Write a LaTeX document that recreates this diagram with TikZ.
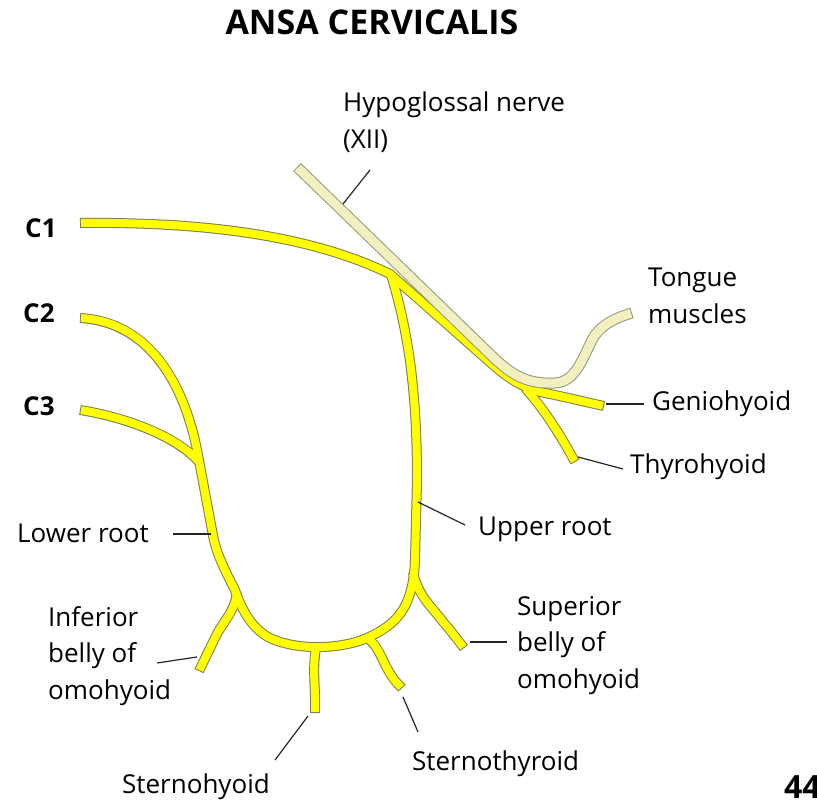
\documentclass[tikz,border=0pt]{standalone}
\usepackage{fontspec}
\setmainfont{Open Sans}
\definecolor{NerveClr}{RGB}{255,255,0}
\definecolor{NerveEdgeClr}{RGB}{125,125,80}
\definecolor{HypoClr}{RGB}{242,240,192}
\definecolor{HypoEdgeClr}{RGB}{150,150,120}
\tikzset{
  nerveedge/.style={line width=10pt,color=NerveEdgeClr},
  nervefill/.style={line width=8pt,color=NerveClr,shorten <=1pt,shorten >=1pt},
  hypoedge/.style={line width=11pt,color=HypoEdgeClr},
  hypofill/.style={line width=9pt,color=HypoClr,shorten <=1pt,shorten >=1pt},
  lbl/.style={font=\fontsize{26}{36.5}\selectfont,inner sep=0pt,align=left},
  rootlbl/.style={font=\fontsize{26}{36.5}\selectfont\bfseries,inner sep=0pt,anchor=base west},
  leader/.style={line width=1.2pt,color=black!85}
}
\begin{document}
\begin{tikzpicture}[x=1pt,y=-1pt]
\useasboundingbox (0,0) rectangle (817,802);

\foreach \s in {nerveedge,nervefill}{
  \draw[\s] (80,223) .. controls (180,222) and (300,230) .. (390,274) -- (492,364)
    .. controls (508,378) and (522,388) .. (545,393) .. controls (570,398) and (585,402) .. (604,406);
  \draw[\s] (525,388) .. controls (540,405) and (555,425) .. (575,462);
  \draw[\s] (391,275) .. controls (408,330) and (417,390) .. (417,480) -- (415,560)
    .. controls (413,610) and (395,625) .. (367,638) .. controls (345,648) and (300,652) .. (270,638)
    .. controls (250,628) and (240,605) .. (235,590) .. controls (222,565) and (215,550) .. (212,530)
    -- (198,455) .. controls (185,385) and (150,322) .. (80,318);
  \draw[\s] (80,410) .. controls (130,418) and (178,438) .. (199,462);
  \draw[\s] (413,572) .. controls (418,595) and (430,605) .. (440,618) .. controls (450,630) .. (464,648);
  \draw[\s] (367,638) .. controls (378,645) and (382,660) .. (388,670) .. controls (394,680) .. (402,688);
  \draw[\s] (316,648) .. controls (312,670) and (316,690) .. (315,713);
  \draw[\s] (237,592) .. controls (235,610) and (225,620) .. (218,632) .. controls (210,648) .. (199,671);
}
\foreach \s in {hypoedge,hypofill}{
  \draw[\s] (297,167) -- (493,357) .. controls (515,378) and (530,384) .. (555,383)
    .. controls (575,382) and (582,360) .. (592,340) .. controls (600,325) and (615,318) .. (632,313);
}

\node[font=\fontsize{34}{40}\selectfont\bfseries,inner sep=0pt,anchor=base] (title) at (372,35) {ANSA CERVICALIS};

\node[lbl,anchor=north west] (hypo) at (343,92) {Hypoglossal nerve\\(XII)};
\node[lbl,anchor=north west] (tongue) at (648,268) {Tongue\\muscles};
\node[lbl,anchor=base west] (genio) at (652,410) {Geniohyoid};
\node[lbl,anchor=base west] (thyro) at (630,473) {Thyrohyoid};
\node[lbl,anchor=base west] (upper) at (478,535) {Upper root};
\node[lbl,anchor=base west] (lower) at (17,542) {Lower root};
\node[lbl,anchor=north west] (infbelly) at (48,606) {Inferior\\belly of\\omohyoid};
\node[lbl,anchor=north west] (supbelly) at (517,596) {Superior\\belly of\\omohyoid};
\node[lbl,anchor=base west] (sthyro) at (412,770) {Sternothyroid};
\node[lbl,anchor=base west] (shyo) at (122,793) {Sternohyoid};

\node[rootlbl] (c1) at (25,238) {C1};
\node[rootlbl] (c2) at (23,323) {C2};
\node[rootlbl] (c3) at (23,415) {C3};

\node[font=\fontsize{32}{36}\selectfont\bfseries,inner sep=0pt,anchor=base west] (page) at (784,798) {44};

\coordinate (hypo-n) at (343,204);
\coordinate (hypo-t) at (370,170);
\coordinate (genio-n) at (606,404);
\coordinate (genio-t) at (644,404);
\coordinate (thyro-n) at (578,457);
\coordinate (thyro-t) at (623,469);
\coordinate (upper-n) at (418,502);
\coordinate (upper-t) at (465,525);
\coordinate (lower-n) at (211,534);
\coordinate (lower-t) at (173,534);
\coordinate (infbelly-n) at (197,657);
\coordinate (infbelly-t) at (157,663);
\coordinate (supbelly-n) at (470,642);
\coordinate (supbelly-t) at (507,642);
\coordinate (sthyro-n) at (403,697);
\coordinate (sthyro-t) at (418,732);
\coordinate (shyo-n) at (308,716);
\coordinate (shyo-t) at (275,760);

\draw[leader] (hypo-t) -- (hypo-n);
\draw[leader] (genio-n) -- (genio-t);
\draw[leader] (thyro-n) -- (thyro-t);
\draw[leader] (upper-n) -- (upper-t);
\draw[leader] (lower-n) -- (lower-t);
\draw[leader] (infbelly-n) -- (infbelly-t);
\draw[leader] (supbelly-n) -- (supbelly-t);
\draw[leader] (sthyro-n) -- (sthyro-t);
\draw[leader] (shyo-n) -- (shyo-t);

\end{tikzpicture}
\end{document}
